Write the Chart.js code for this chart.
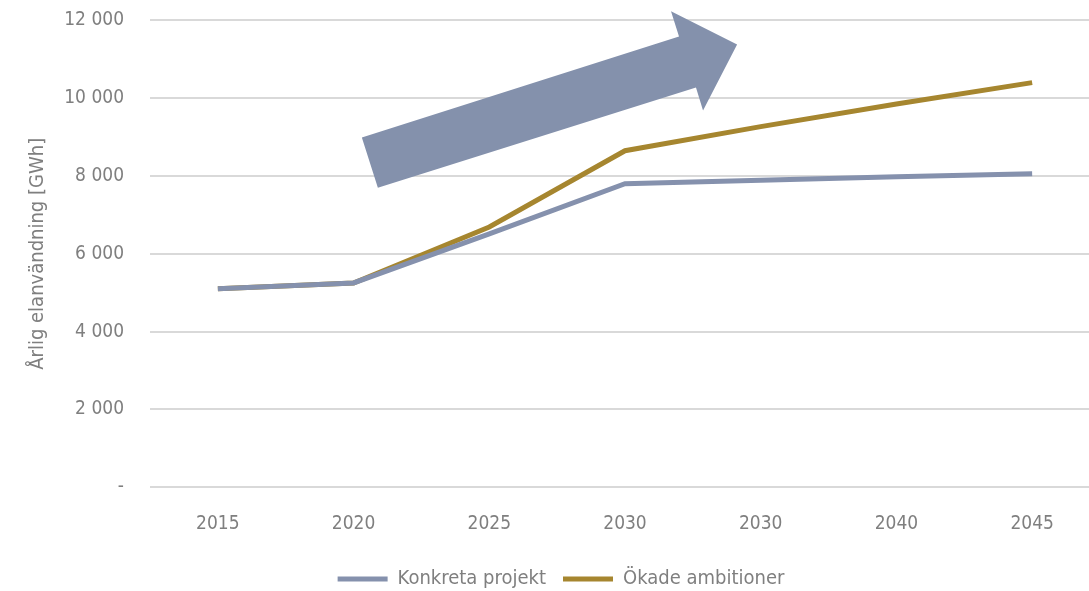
<!DOCTYPE html>
<html>
<head>
<meta charset="utf-8">
<script src="https://cdn.jsdelivr.net/npm/chart.js@4/dist/chart.umd.min.js"></script>
<style>
  html, body { margin: 0; padding: 0; background: #fff; overflow: hidden; width: 1089px; height: 591px; }
  #myChart { display: block; margin-top: -17px; }
</style>
</head>
<body>
<canvas id="myChart" width="1100" height="616"></canvas>
<script>
const years = ["2015", "2020", "2025", "2030", "2030", "2040", "2045"];
const konkreta = [5100, 5250, 6510, 7800, 7890, 7980, 8060];
const okade = [5100, 5250, 6690, 8650, 9270, 9850, 10400];
const yTicks = [0, 2000, 4000, 6000, 8000, 10000, 12000];

// arrow outline in (category index, value) units
const arrowIdx = [1.061, 1.179, 3.523, 3.575, 3.826, 3.339, 3.398];
const arrowVal = [8988, 7700, 10275, 9683, 11383, 12233, 11589];

const blue = "#8591ad";
const gold = "#a6862f";
const grey = "#7f7f7f";
const font = "'DejaVu Sans Condensed', 'Liberation Sans Narrow', sans-serif";

const arrowPlugin = {
  id: "arrow",
  beforeDatasetsDraw(chart) {
    const { ctx, scales } = chart;
    const x = scales.x, y = scales.y;
    const step = x.getPixelForValue(1) - x.getPixelForValue(0);
    const x0 = x.getPixelForValue(0);
    ctx.save();
    ctx.beginPath();
    arrowIdx.forEach((v, i) => {
      const px = x0 + v * step;
      const py = y.getPixelForValue(arrowVal[i]);
      if (i === 0) ctx.moveTo(px, py); else ctx.lineTo(px, py);
    });
    ctx.closePath();
    ctx.fillStyle = "#8491ac";
    ctx.fill();
    ctx.restore();
  }
};

const data = {
  labels: years,
  datasets: [
    {
      label: "Konkreta projekt",
      data: konkreta,
      borderColor: blue,
      backgroundColor: blue,
      borderWidth: 5,
      pointRadius: 0,
      tension: 0,
      fill: false,
    },
    {
      label: "Ökade ambitioner",
      data: okade,
      borderColor: gold,
      backgroundColor: gold,
      borderWidth: 5,
      pointRadius: 0,
      tension: 0,
      fill: false,
    },
  ],
};

const options = {
  responsive: false,
  animation: false,
  layout: { padding: { top: 0, right: 0, left: 22, bottom: 0 } },
  plugins: {
    legend: {
      position: "bottom",
      labels: {
        usePointStyle: true,
        pointStyle: "line",
        pointStyleWidth: 50,
        color: grey,
        padding: 17,
        font: { family: font, size: 20 },
      },
    },
    tooltip: { enabled: false },
  },
  scales: {
    x: {
      offset: true,
      grid: { display: false },
      border: { display: false },
      ticks: { color: grey, padding: 17, font: { family: font, size: 19 } },
    },
    y: {
      min: 0,
      max: 12000,
      afterBuildTicks(axis) { axis.ticks = yTicks.map(v => ({ value: v })); },
      afterFit(axis) { axis.width = 128; },
      grid: { color: "#d9d9d9", lineWidth: 2, drawTicks: false },
      border: { display: false },
      ticks: {
        color: grey,
        padding: 26,
        font: { family: font, size: 19 },
        callback: (v) => v === 0 ? "-" : String(v).replace(/\B(?=(\d{3})+(?!\d))/g, " "),
      },
      title: {
        display: true,
        text: "Årlig elanvändning [GWh]",
        color: grey,
        padding: { bottom: 6 },
        font: { family: font, size: 20 },
      },
    },
  },
};

new Chart("myChart", {
  type: "line",
  data: data,
  options: options,
  plugins: [arrowPlugin],
});
</script>
</body>
</html>
